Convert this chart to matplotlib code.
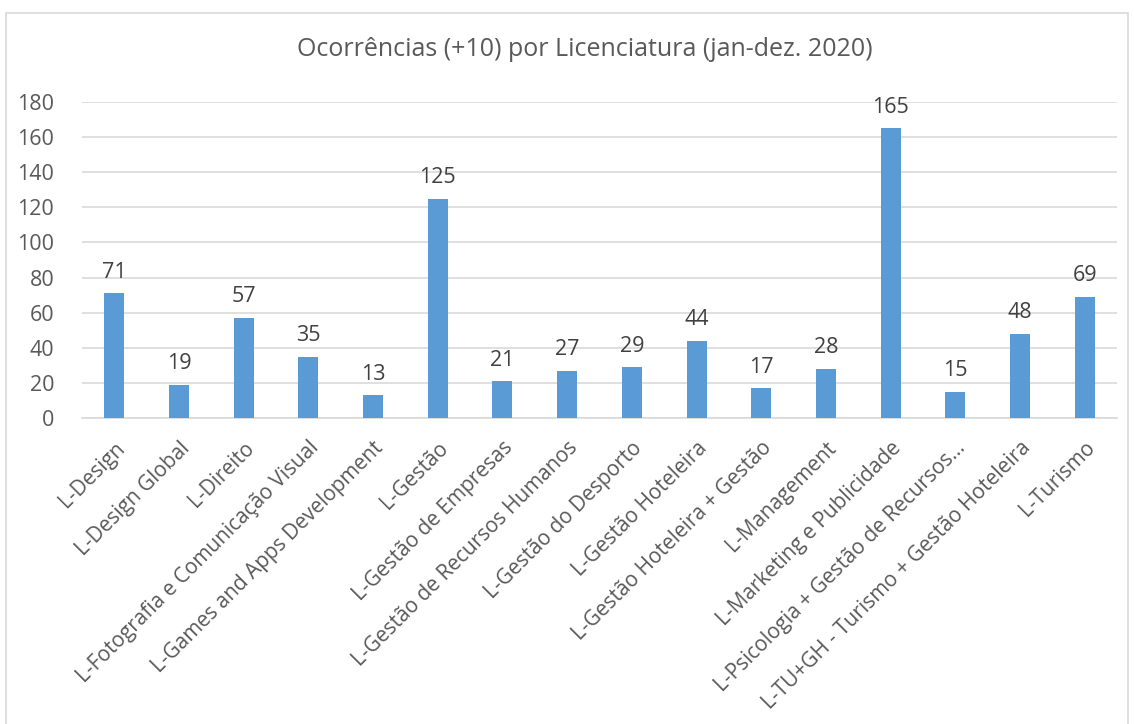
import matplotlib.pyplot as plt
from matplotlib.patches import Rectangle

plt.rcParams['font.family'] = ['Open Sans', 'DejaVu Sans']

cursos = ["L-Design", "L-Design Global", "L-Direito",
          "L-Fotografia e Comunicação Visual", "L-Games and Apps Development",
          "L-Gestão", "L-Gestão de Empresas", "L-Gestão de Recursos Humanos",
          "L-Gestão do Desporto", "L-Gestão Hoteleira", "L-Gestão Hoteleira + Gestão",
          "L-Management", "L-Marketing e Publicidade",
          "L-Psicologia + Gestão de Recursos...",
          "L-TU+GH - Turismo + Gestão Hoteleira", "L-Turismo"]
ocorrencias = [71, 19, 57, 35, 13, 125, 21, 27, 29, 44, 17, 28, 165, 15, 48, 69]
yticks = [0, 20, 40, 60, 80, 100, 120, 140, 160, 180]

cor_txt = "#595959"
fig = plt.figure(figsize=(11.34, 7.24), dpi=100)
fig.patches.append(Rectangle((6 / 1134, -0.01), 1122 / 1134, 1 - 13 / 724 + 0.01,
                             transform=fig.transFigure, fill=False,
                             edgecolor="#d9d9d9", linewidth=1.2))
ax = fig.add_axes([82 / 1134, 1 - 418 / 724, 1035 / 1134, 316 / 724])

x = range(len(cursos))
bars = ax.bar(x, ocorrencias, width=0.31, color="#5b9bd5", zorder=3)
for xi, v in zip(x, ocorrencias):
    ax.text(xi, v + 6, str(v), ha="center", va="bottom", fontsize=15.5, color="#404040")

ax.set_xlim(-0.5, len(cursos) - 0.5)
ax.set_ylim(0, 180)
ax.set_yticks(yticks)
ax.yaxis.grid(True, color="#d9d9d9", linewidth=1.2, zorder=0)
ax.set_xticks(list(x))
ax.set_xticklabels(cursos, rotation=45, ha="right", rotation_mode="anchor",
                   fontsize=15, color=cor_txt)
ax.tick_params(axis="y", length=0, labelsize=15.5, labelcolor=cor_txt, pad=20)
ax.tick_params(axis="x", length=0, pad=14)
for s in ["top", "right", "left"]:
    ax.spines[s].set_visible(False)
ax.spines["bottom"].set_color("#d9d9d9")
ax.spines["bottom"].set_linewidth(1.2)

fig.text(585 / 1134, 1 - 50 / 724, "Ocorrências (+10) por Licenciatura (jan-dez. 2020)",
         ha="center", va="center", fontsize=18, color=cor_txt)

fig.savefig("out.png", dpi=100)
